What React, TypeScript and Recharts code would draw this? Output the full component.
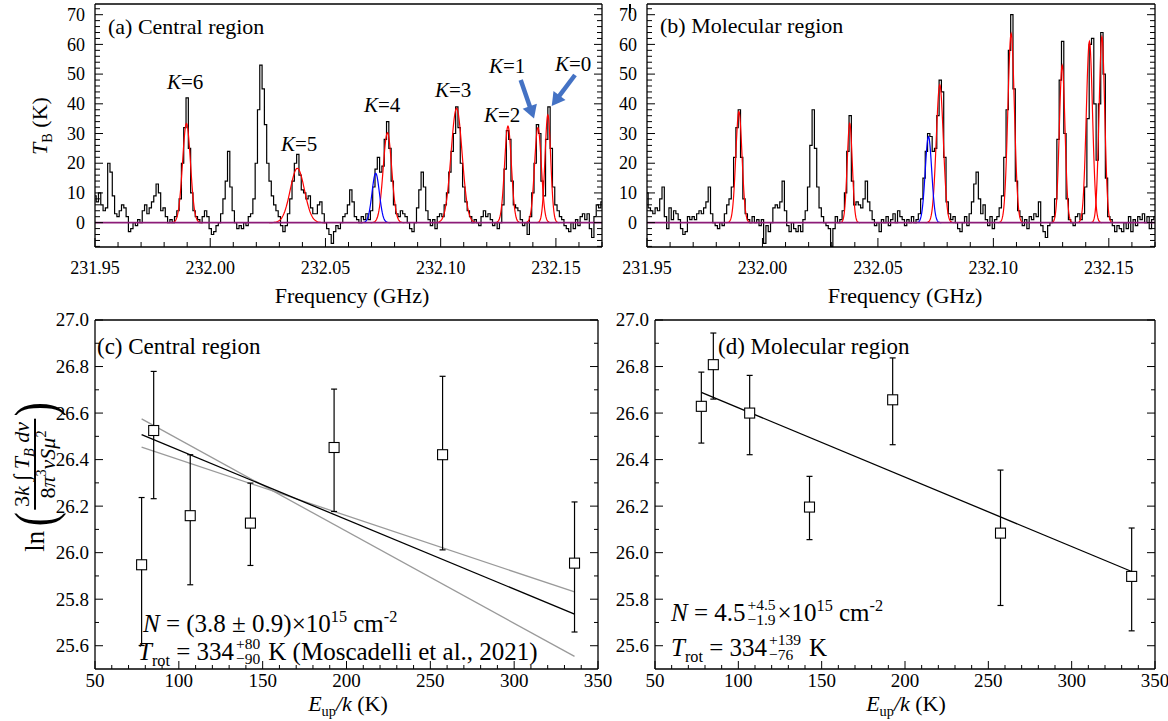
import React from 'react';
import { ComposedChart, Line, XAxis, YAxis, Scatter, ErrorBar, ReferenceLine } from 'recharts';

const W = 1168;
const H = 721;
const FONT = "'Liberation Serif', 'Times New Roman', Times, serif";

// ---------- spectra (brightness temperature per 0.001 GHz channel) ----------
const FREQ_START = 231.95;
const CHANNEL_GHZ = 0.001;
const centralTB = [
  9, 7, 10, 6, 4, 5, 20, 17, 9, 3,
  2, 4, 6, 5, 2, -3, -2, 0, -1, 1,
  0, 4, 6, 3, 5, 7, 9, 13, 10, 4,
  5, 2, 0, 1, 0, 2, 4, 8, 20, 32,
  42, 25, 10, 4, 2, 1, 0, 2, 4, 2,
  -2, -4, -3, -1, 0, 3, 8, 14, 24, 12,
  4, 0, -2, -1, -2, 0, -1, 2, 3, 8,
  20, 38, 53, 45, 33, 20, 14, 9, 6, 4,
  2, -1, -3, -1, 3, 8, 14, 20, 23, 16,
  11, 10, 8, 9, 5, 3, 3, 6, 7, 3,
  0, -2, -4, -7, -3, -1, -2, 0, 2, 3,
  6, 11, 7, 2, 1, 0, 2, 1, 3, 1,
  4, 12, 18, 22, 17, 19, 28, 34, 25, 14,
  6, 3, 2, 4, 3, 2, 0, -2, -3, 0,
  5, 11, 17, 12, 4, 1, -1, 1, -2, 2,
  3, 2, 6, 10, 17, 24, 30, 39, 32, 20,
  12, 7, 4, 2, 0, 1, 0, -1, 2, 4,
  2, 3, 1, -1, 0, -2, 0, 6, 18, 31,
  28, 14, 6, 5, 4, 1, -1, 0, -4, 2,
  10, 20, 33, 30, 14, 9, 28, 39, 25, 12,
  6, 4, 2, 1, -1, -2, -3, 0, -2, 1,
  -1, 2, 3, 1, 3, -2, -5, 2, 6, 5, 7,
];
const molecularTB = [
  10, 5, 4, 3, 5, 4, 8, 12, 2, -2,
  5, 1, 4, 3, 1, -2, -4, -3, 2, 1,
  2, 1, 3, 4, 3, 5, 7, 12, 3, 0,
  -1, -2, 0, -1, 3, 6, 8, 12, 22, 32,
  38, 22, 8, 3, 1, 0, 2, 0, 1, -1,
  1, -7, -1, -3, 0, 5, 6, 5, 7, 14,
  4, -1, -3, 0, -2, -3, -1, -3, 1, 4,
  12, 26, 38, 25, 12, 5, 2, 0, -1, -2,
  -8, -2, 2, 0, 1, 4, 10, 24, 36, 14,
  6, 7, 6, 5, 8, 14, 7, 4, 1, -1,
  0, -3, 1, 0, 2, -1, 1, 3, 0, 4,
  2, 1, -1, 1, 0, 2, 0, 1, 3, 8,
  15, 24, 30, 29, 24, 25, 36, 48, 44, 22,
  7, 3, 1, 2, 0, -2, -3, 0, 2, -1,
  3, 7, 13, 17, 8, 3, 6, 1, -1, 2,
  -2, 1, 2, 5, 9, 22, 38, 58, 70, 45,
  14, 4, 2, -1, 1, -2, 2, 1, 3, 2,
  7, -1, -3, -5, -1, 0, 2, 8, 28, 48,
  61, 30, 8, 1, 0, -1, 2, 3, 1, 3,
  12, 35, 60, 62, 40, 21, 40, 64, 50, 15,
  2, 1, -1, -3, -1, -2, -3, 0, -2, 2,
  -3, 1, -1, 2, 1, 3, 0, 2, -2, 1, 2,
];

// Gaussian fit components (K = 6 ... 0): centre (GHz), peak (K), sigma (GHz)
const centralFitCenter = [231.9897, 232.0378, 232.0769, 232.1069, 232.1292, 232.1422, 232.1465];
const centralFitPeak = [33.4, 18.3, 30.3, 38.5, 32.5, 32.0, 36.3];
const centralFitSigma = [0.00172, 0.00307, 0.00184, 0.0024, 0.00147, 0.00147, 0.00123];
const centralBlend = [232.0718, 16.6, 0.0016];
const molecularFitCenter = [231.9898, 232.0378, 232.0768, 232.1077, 232.1298, 232.1416, 232.147];
const molecularFitPeak = [37.4, 33.4, 46.4, 63.7, 53.0, 61.0, 62.6];
const molecularFitSigma = [0.00135, 0.0011, 0.00153, 0.00141, 0.00122, 0.00135, 0.00122];
const molecularBlend = [232.0719, 29.0, 0.0014];

const specXTicks = [231.95, 231.96, 231.97, 231.98, 231.99, 232.0, 232.01, 232.02, 232.03, 232.04, 232.05, 232.06, 232.07, 232.08, 232.09, 232.1, 232.11, 232.12, 232.13, 232.14, 232.15, 232.16, 232.17];
const specXMajor = [231.95, 232.0, 232.05, 232.1, 232.15];
const specYTicks = [-8, -6, -4, -2, 0, 2, 4, 6, 8, 10, 12, 14, 16, 18, 20, 22, 24, 26, 28, 30, 32, 34, 36, 38, 40, 42, 44, 46, 48, 50, 52, 54, 56, 58, 60, 62, 64, 66, 68, 70, 72];
const specYMajor = [0, 10, 20, 30, 40, 50, 60, 70];
const specXDomain = [231.95, 232.17];
const specYDomain = [-8.2, 73.6];

// ---------- rotation diagrams ----------
const eUp = [77.8, 85.0, 106.8, 142.7, 192.6, 257.3, 336.0];
const centralLn = [25.948, 26.525, 26.159, 26.127, 26.452, 26.421, 25.955];
const centralLnLow = [25.601, 26.232, 25.862, 25.945, 26.177, 26.012, 25.659];
const centralLnHigh = [26.237, 26.779, 26.421, 26.299, 26.703, 26.758, 26.218];
const molecularLn = [26.629, 26.808, 26.6, 26.196, 26.657, 26.084, 25.898];
const molecularLnLow = [26.471, 26.66, 26.421, 26.056, 26.464, 25.773, 25.664];
const molecularLnHigh = [26.776, 26.944, 26.762, 26.328, 26.837, 26.355, 26.106];
const fitX = [77.8, 336.0];
const centralFitBest = [26.507, 25.736];
const centralFitSteep = [26.575, 25.554];
const centralFitShallow = [26.454, 25.831];
const molecularFitBest = [26.689, 25.919];

const rotXTicks = [50, 60, 70, 80, 90, 100, 110, 120, 130, 140, 150, 160, 170, 180, 190, 200, 210, 220, 230, 240, 250, 260, 270, 280, 290, 300, 310, 320, 330, 340, 350];
const rotXMajor = [50, 100, 150, 200, 250, 300, 350];
const rotYTicks = [25.6, 25.7, 25.8, 25.9, 26.0, 26.1, 26.2, 26.3, 26.4, 26.5, 26.6, 26.7, 26.8, 26.9, 27.0];
const rotYMajor = [25.6, 25.8, 26.0, 26.2, 26.4, 26.6, 26.8, 27.0];
const rotXDomain = [50, 350];
const rotYDomain = [25.5, 27.0];

// ---------- helpers ----------
type Side = 'bottom' | 'top' | 'left' | 'right';
const tickFactory = (
  side: Side,
  majors: number[],
  majorLen: number,
  minorLen: number,
  fmt: ((v: number) => string) | null,
  fontSize: number,
  gap: number
) => (props: any) => {
  const { x, y, payload } = props;
  const v = Number(payload?.value);
  const major = majors.some((m) => Math.abs(m - v) < 1e-7);
  const len = major ? majorLen : minorLen;
  let x2 = x;
  let y2 = y;
  if (side === 'bottom') y2 = y - len;
  if (side === 'top') y2 = y + len;
  if (side === 'left') x2 = x + len;
  if (side === 'right') x2 = x - len;
  return (
    <g>
      <line x1={x} y1={y} x2={x2} y2={y2} stroke="#000" strokeWidth={1} />
      {fmt && major && side === 'bottom' && (
        <text x={x} y={y + gap} textAnchor="middle" fontSize={fontSize} fontFamily={FONT} fill="#000">
          {fmt(v)}
        </text>
      )}
      {fmt && major && side === 'left' && (
        <text x={x - gap} y={y + fontSize * 0.34} textAnchor="end" fontSize={fontSize} fontFamily={FONT} fill="#000">
          {fmt(v)}
        </text>
      )}
    </g>
  );
};

const gaussCurve = (c: number, a: number, s: number) => {
  const pts: { f: number; t: number }[] = [];
  for (let k = -36; k <= 36; k++) {
    const u = k / 9;
    pts.push({ f: c + u * s, t: a * Math.exp(-0.5 * u * u) });
  }
  return pts;
};

type Plot = { left: number; top: number; right: number; bottom: number };
const marginFor = (p: Plot) => ({ left: p.left - 1, top: p.top - 1, right: W - p.right - 1, bottom: H - p.bottom - 1 });
const abs: React.CSSProperties = { position: 'absolute', left: 0, top: 0 };
const axisLine = { stroke: '#000', strokeWidth: 1.3 };

function SpecPanel({ tb, centers, peaks, sigmas, blend, plot }: any) {
  const spec = tb.map((t: number, i: number) => ({ f: FREQ_START + i * CHANNEL_GHZ, t }));
  const fits = centers.map((c: number, i: number) => gaussCurve(c, peaks[i], sigmas[i]));
  const blue = gaussCurve(blend[0], blend[1], blend[2]);
  return (
    <div style={abs}>
      <ComposedChart width={W} height={H} data={spec} margin={marginFor(plot)}>
        <XAxis dataKey="f" type="number" domain={specXDomain} allowDataOverflow ticks={specXTicks} interval={0}
          height={1} tickSize={0} tickMargin={0} axisLine={axisLine} tickLine={false}
          tick={tickFactory('bottom', specXMajor, 9, 5, (v) => v.toFixed(2), 18, 27)} />
        <XAxis xAxisId="top" orientation="top" type="number" domain={specXDomain} allowDataOverflow ticks={specXTicks} interval={0}
          height={1} tickSize={0} tickMargin={0} axisLine={axisLine} tickLine={false}
          tick={tickFactory('top', specXMajor, 9, 5, null, 18, 0)} />
        <YAxis type="number" domain={specYDomain} allowDataOverflow ticks={specYTicks} interval={0}
          width={1} tickSize={0} tickMargin={0} axisLine={axisLine} tickLine={false}
          tick={tickFactory('left', specYMajor, 8, 5, (v) => String(v), 18, 10)} />
        <YAxis yAxisId="right" orientation="right" type="number" domain={specYDomain} allowDataOverflow ticks={specYTicks} interval={0}
          width={1} tickSize={0} tickMargin={0} axisLine={axisLine} tickLine={false}
          tick={tickFactory('right', specYMajor, 8, 5, null, 18, 0)} />
        <Line dataKey="t" type="step" stroke="#000" strokeWidth={1.2} dot={false} isAnimationActive={false} />
        {fits.map((d: any, i: number) => (
          <Line key={'fit' + i} data={d} dataKey="t" type="linear" stroke="#ff0000" strokeWidth={1.2} dot={false} isAnimationActive={false} />
        ))}
        <Line data={blue} dataKey="t" type="linear" stroke="#0000ff" strokeWidth={1.2} dot={false} isAnimationActive={false} />
        <ReferenceLine y={0} stroke="#8c1c78" strokeWidth={1.8} />
      </ComposedChart>
    </div>
  );
}

const Square = (props: any) => {
  const { cx, cy } = props;
  return <rect x={cx - 5} y={cy - 5} width={10} height={10} fill="#fff" stroke="#000" strokeWidth={1.1} />;
};

function RotPanel({ ys, lows, highs, lines, plot }: any) {
  const pts = eUp.map((x, i) => ({ x, y: ys[i], err: [ys[i] - lows[i], highs[i] - ys[i]] }));
  return (
    <div style={abs}>
      <ComposedChart width={W} height={H} margin={marginFor(plot)}>
        <XAxis dataKey="x" type="number" domain={rotXDomain} allowDataOverflow ticks={rotXTicks} interval={0}
          height={1} tickSize={0} tickMargin={0} axisLine={axisLine} tickLine={false}
          tick={tickFactory('bottom', rotXMajor, 8, 4, (v) => String(v), 19, 18)} />
        <XAxis xAxisId="top" orientation="top" type="number" domain={rotXDomain} allowDataOverflow ticks={rotXTicks} interval={0}
          height={1} tickSize={0} tickMargin={0} axisLine={axisLine} tickLine={false}
          tick={tickFactory('top', rotXMajor, 8, 4, null, 19, 0)} />
        <YAxis dataKey="y" type="number" domain={rotYDomain} allowDataOverflow ticks={rotYTicks} interval={0}
          width={1} tickSize={0} tickMargin={0} axisLine={axisLine} tickLine={false}
          tick={tickFactory('left', rotYMajor, 8, 4, (v) => v.toFixed(1), 19, 6)} />
        <YAxis yAxisId="right" orientation="right" type="number" domain={rotYDomain} allowDataOverflow ticks={rotYTicks} interval={0}
          width={1} tickSize={0} tickMargin={0} axisLine={axisLine} tickLine={false}
          tick={tickFactory('right', rotYMajor, 8, 4, null, 19, 0)} />
        {lines.map((l: any, i: number) => (
          <Line key={'l' + i} data={fitX.map((x, j) => ({ x, y: l.v[j] }))} dataKey="y" type="linear"
            stroke={l.color} strokeWidth={1.3} dot={false} isAnimationActive={false} />
        ))}
        <Scatter data={pts} shape={<Square />} isAnimationActive={false}>
          <ErrorBar dataKey="err" direction="y" width={3} stroke="#000" strokeWidth={1.2} />
        </Scatter>
      </ComposedChart>
    </div>
  );
}

// ---------- text helpers ----------
const Txt = ({ x, y, size, anchor = 'start', children }: any) => {
  const tx = anchor === 'middle' ? 'translateX(-50%)' : anchor === 'end' ? 'translateX(-100%)' : undefined;
  return (
    <div style={{ position: 'absolute', left: x, top: y - 0.84 * size, fontSize: size, lineHeight: 1, fontFamily: FONT,
      whiteSpace: 'pre', display: 'flex', alignItems: 'baseline', transform: tx, color: '#000' }}>
      {children}
    </div>
  );
};
const I = ({ children }: any) => <span style={{ fontStyle: 'italic' }}>{children}</span>;
const Sup = ({ children }: any) => <span style={{ fontSize: '0.65em', position: 'relative', top: '-0.62em' }}>{children}</span>;
const Sub = ({ children }: any) => <span style={{ fontSize: '0.65em', position: 'relative', top: '0.35em' }}>{children}</span>;
const Stack = ({ hi, lo }: any) => (
  <span style={{ display: 'inline-flex', flexDirection: 'column', fontSize: '0.62em', lineHeight: 1, position: 'relative', top: '-0.72em', margin: '0 0.12em' }}>
    <span>{hi}</span>
    <span>{lo}</span>
  </span>
);

const Arrow = ({ x1, y1, x2, y2 }: any) => {
  const dx = x2 - x1;
  const dy = y2 - y1;
  const L = Math.hypot(dx, dy);
  const ux = dx / L;
  const uy = dy / L;
  const hl = 13;
  const hw = 7.5;
  const bx = x2 - ux * hl;
  const by = y2 - uy * hl;
  return (
    <g>
      <line x1={x1} y1={y1} x2={bx + ux} y2={by + uy} stroke="#4472C4" strokeWidth={4.5} />
      <polygon points={`${x2},${y2} ${bx - uy * hw},${by + ux * hw} ${bx + uy * hw},${by - ux * hw}`} fill="#4472C4" />
    </g>
  );
};

const plotA: Plot = { left: 95, top: 4, right: 602, bottom: 247 };
const plotB: Plot = { left: 647, top: 4, right: 1155, bottom: 247 };
const plotC: Plot = { left: 95, top: 320, right: 598, bottom: 669 };
const plotD: Plot = { left: 655, top: 320, right: 1155, bottom: 669 };

export default function App() {
  return (
    <div style={{ position: 'absolute', left: 0, top: 0, width: W, height: H, background: '#fff', overflow: 'hidden' }}>
      <SpecPanel tb={centralTB} centers={centralFitCenter} peaks={centralFitPeak} sigmas={centralFitSigma} blend={centralBlend} plot={plotA} />
      <SpecPanel tb={molecularTB} centers={molecularFitCenter} peaks={molecularFitPeak} sigmas={molecularFitSigma} blend={molecularBlend} plot={plotB} />
      <RotPanel ys={centralLn} lows={centralLnLow} highs={centralLnHigh} plot={plotC}
        lines={[{ v: centralFitSteep, color: '#9a9a9a' }, { v: centralFitShallow, color: '#9a9a9a' }, { v: centralFitBest, color: '#000' }]} />
      <RotPanel ys={molecularLn} lows={molecularLnLow} highs={molecularLnHigh} plot={plotD}
        lines={[{ v: molecularFitBest, color: '#000' }]} />

      <svg width={W} height={H} style={{ position: 'absolute', left: 0, top: 0, pointerEvents: 'none' }}>
        <Arrow x1={520.7} y1={80} x2={534} y2={118.5} />
        <Arrow x1={575} y1={75} x2={551.7} y2={106} />
      </svg>

      {/* panel titles */}
      <Txt x={108} y={34} size={22}>(a) Central region</Txt>
      <Txt x={660} y={33} size={22}>(b) Molecular region</Txt>
      <Txt x={97} y={354} size={23}>(c) Central region</Txt>
      <Txt x={718} y={354} size={23}>(d) Molecular region</Txt>

      {/* K labels */}
      <Txt x={167} y={89.5} size={21}><I>K</I>=6</Txt>
      <Txt x={281} y={151.5} size={21}><I>K</I>=5</Txt>
      <Txt x={364} y={113} size={21}><I>K</I>=4</Txt>
      <Txt x={435} y={97.5} size={21}><I>K</I>=3</Txt>
      <Txt x={484} y={123} size={21}><I>K</I>=2</Txt>
      <Txt x={489} y={74} size={21}><I>K</I>=1</Txt>
      <Txt x={555} y={71.5} size={21}><I>K</I>=0</Txt>

      {/* axis titles */}
      <Txt x={352} y={303} size={22} anchor="middle">Frequency (GHz)</Txt>
      <Txt x={905} y={303} size={22} anchor="middle">Frequency (GHz)</Txt>
      <Txt x={348} y={711} size={22} anchor="middle"><I>E</I><Sub>up</Sub><I>/k</I> (K)</Txt>
      <Txt x={906} y={711} size={22} anchor="middle"><I>E</I><Sub>up</Sub><I>/k</I> (K)</Txt>
      <div style={{ position: 'absolute', left: 40, top: 126, transform: 'translate(-50%, -50%) rotate(-90deg)', fontFamily: FONT,
        fontSize: 22, lineHeight: 1, whiteSpace: 'pre', display: 'flex', alignItems: 'baseline' }}>
        <I>T</I><Sub>B</Sub> (K)
      </div>
      <div style={{ position: 'absolute', left: 35, top: 476, transform: 'translate(-50%, -50%) rotate(-90deg)', fontFamily: FONT,
        whiteSpace: 'pre', display: 'flex', alignItems: 'center', lineHeight: 1 }}>
        <span style={{ fontSize: 27, marginRight: 2 }}>ln</span>
        <span style={{ fontSize: 56, transform: 'scaleX(0.75)' }}>(</span>
        <div style={{ display: 'flex', flexDirection: 'column', alignItems: 'center', fontSize: 22 }}>
          <div style={{ display: 'flex', alignItems: 'baseline', padding: '0 3px 1px 3px' }}>
            3<I>k</I> ∫ <I>T</I><Sub><I>B</I></Sub><I> dv</I>
          </div>
          <div style={{ borderTop: '2.5px solid #000', alignSelf: 'stretch' }} />
          <div style={{ display: 'flex', alignItems: 'baseline', padding: '1px 3px 0 3px' }}>
            8<I>π</I><Sup>3</Sup><I>νSμ</I><Sup>2</Sup>
          </div>
        </div>
        <span style={{ fontSize: 56, transform: 'scaleX(0.75)' }}>)</span>
      </div>

      {/* fit annotations */}
      <Txt x={143} y={632} size={25}><I>N</I> = (3.8 ± 0.9)×10<Sup>15</Sup> cm<Sup>-2</Sup></Txt>
      <Txt x={138} y={660} size={25}><I>T</I><Sub>rot</Sub> = 334<Stack hi="+80" lo="−90" /> K (Moscadelli et al., 2021)</Txt>
      <Txt x={671} y={621} size={25}><I>N</I> = 4.5<Stack hi="+4.5" lo="−1.9" />×10<Sup>15</Sup> cm<Sup>-2</Sup></Txt>
      <Txt x={671} y={656} size={25}><I>T</I><Sub>rot</Sub> = 334<Stack hi="+139" lo="−76" /> K</Txt>
    </div>
  );
}
